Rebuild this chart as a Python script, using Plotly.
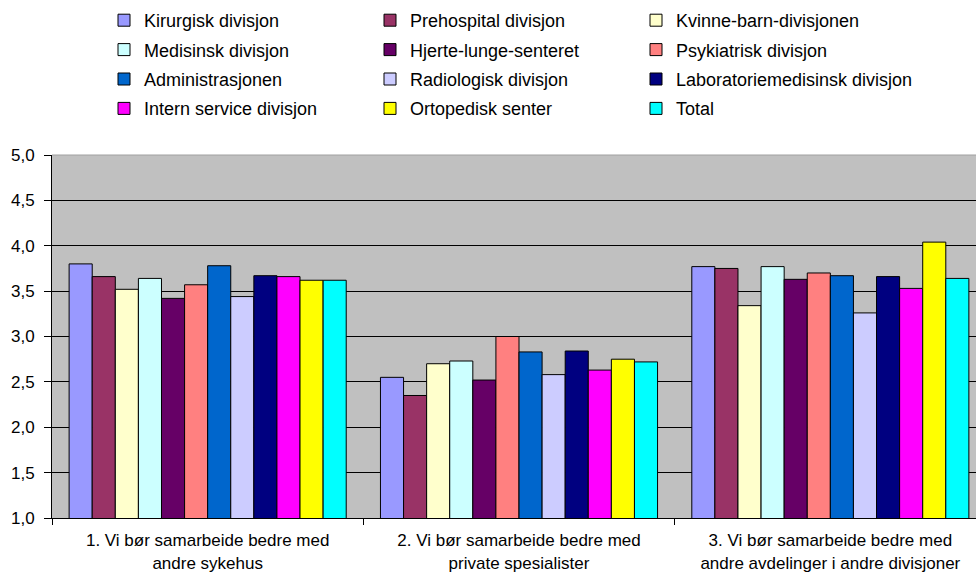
import plotly.graph_objects as go

# Survey statements (x categories)
categories = [
    "1. Vi bør samarbeide bedre med<br>andre sykehus",
    "2. Vi bør samarbeide bedre med<br>private spesialister",
    "3. Vi bør samarbeide bedre med<br>andre avdelinger i andre divisjoner",
]

# Mean score per division for each statement
kirurgisk = [3.80, 2.55, 3.77]
prehospital = [3.66, 2.35, 3.75]
kvinne_barn = [3.52, 2.70, 3.34]
medisinsk = [3.64, 2.73, 3.77]
hjerte_lunge = [3.42, 2.52, 3.63]
psykiatrisk = [3.57, 3.00, 3.70]
administrasjonen = [3.78, 2.83, 3.67]
radiologisk = [3.44, 2.58, 3.26]
laboratorie = [3.67, 2.84, 3.66]
intern_service = [3.66, 2.63, 3.53]
ortopedisk = [3.62, 2.75, 4.04]
total = [3.62, 2.72, 3.64]

y_ticks = [1.0, 1.5, 2.0, 2.5, 3.0, 3.5, 4.0, 4.5, 5.0]

# (name, values, colour, legend column)
series = [
    ("Kirurgisk divisjon", kirurgisk, "#9999FF", "legend"),
    ("Prehospital divisjon", prehospital, "#993366", "legend2"),
    ("Kvinne-barn-divisjonen", kvinne_barn, "#FFFFCC", "legend3"),
    ("Medisinsk divisjon", medisinsk, "#CCFFFF", "legend"),
    ("Hjerte-lunge-senteret", hjerte_lunge, "#660066", "legend2"),
    ("Psykiatrisk divisjon", psykiatrisk, "#FF8080", "legend3"),
    ("Administrasjonen", administrasjonen, "#0066CC", "legend"),
    ("Radiologisk divisjon", radiologisk, "#CCCCFF", "legend2"),
    ("Laboratoriemedisinsk divisjon", laboratorie, "#000080", "legend3"),
    ("Intern service divisjon", intern_service, "#FF00FF", "legend"),
    ("Ortopedisk senter", ortopedisk, "#FFFF00", "legend2"),
    ("Total", total, "#00FFFF", "legend3"),
]

FONT = "Liberation Sans, Arial, sans-serif"

# plot area geometry (px) used to place the legend columns in paper units
L, R, T, B = 52, 0, 155, 57
PW, PH = 976 - L - R, 575 - T - B


def px_x(x):
    return (x - L) / PW


def px_y(y):
    return (575 - B - y) / PH


fig = go.Figure()
for name, vals, color, leg in series:
    fig.add_trace(go.Bar(
        x=categories, y=vals, name=name, legend=leg, legendgroup=name,
        marker=dict(color=color, line=dict(color="#000000", width=1)),
    ))

legend_style = dict(
    orientation="v",
    yanchor="top", xanchor="left", y=px_y(2),
    traceorder="grouped", tracegroupgap=3,
    font=dict(family=FONT, size=18, color="#000000"),
    bgcolor="rgba(0,0,0,0)", borderwidth=0,
)

fig.update_layout(
    width=976, height=575,
    margin=dict(l=L, r=R, t=T, b=B, autoexpand=False),
    paper_bgcolor="white", plot_bgcolor="#C0C0C0",
    separators=", ",
    barmode="group", bargap=0.11, bargroupgap=0,
    font=dict(family=FONT, size=16, color="#000000"),
    legend=dict(legend_style, x=px_x(104)),
    legend2=dict(legend_style, x=px_x(370)),
    legend3=dict(legend_style, x=px_x(636)),
    xaxis=dict(
        range=[-0.5, 2.5 - 10 / 311],
        showline=True, linecolor="#000000", linewidth=1,
        ticks="outside", tickson="boundaries", ticklen=6, tickcolor="#000000",
        tickfont=dict(family=FONT, size=17), showgrid=False, tickangle=0,
        ticklabelstandoff=7,
    ),
    yaxis=dict(
        range=[1, 5], tickvals=y_ticks, tickformat=".1f",
        showline=True, linecolor="#000000", linewidth=1,
        ticks="outside", ticklen=7, tickcolor="#000000",
        showgrid=True, gridcolor="#000000", gridwidth=1,
        tickfont=dict(family=FONT, size=17), zeroline=False,
        ticklabelstandoff=6,
    ),
    shapes=[dict(type="line", xref="paper", yref="paper", x0=0, x1=1, y0=1, y1=1,
                 line=dict(color="#A0A0A0", width=1), layer="above")],
)

fig.write_html("out.html")
